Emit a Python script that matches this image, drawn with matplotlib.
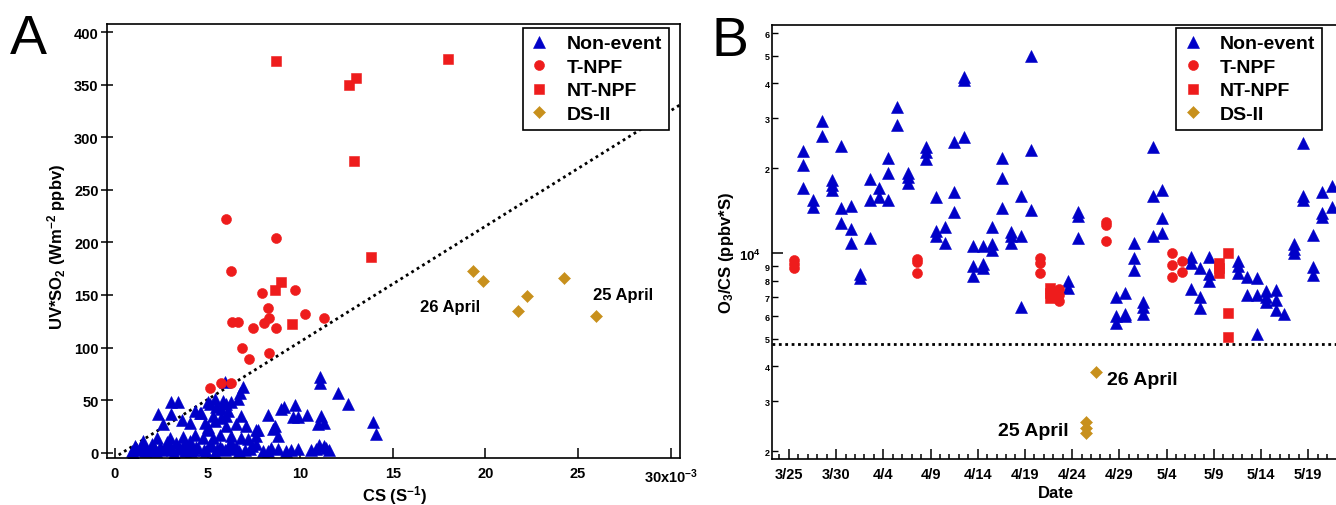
import matplotlib
matplotlib.use("Agg")
import matplotlib.pyplot as plt
import numpy as np

plt.rcParams['font.family'] = ['Liberation Sans', 'DejaVu Sans']
plt.rcParams['font.weight'] = 'bold'
plt.rcParams['mathtext.fontset'] = 'custom'
plt.rcParams['mathtext.rm'] = 'Liberation Sans:bold'
plt.rcParams['mathtext.it'] = 'Liberation Sans:bold'
plt.rcParams['mathtext.bf'] = 'Liberation Sans:bold'
plt.rcParams['mathtext.default'] = 'rm'

# ---------------- Panel A data (CS in 1e-3 s^-1, UV*SO2) ----------------
a_non_cs = [0.9, 1.1, 1.3, 1.5, 1.7, 1.9, 2.0, 2.2, 2.25, 2.33, 2.42, 2.6, 2.7, 2.8, 2.96,
            3.05, 3.05, 3.1, 3.32, 3.4, 3.45, 3.6, 3.68, 3.8, 3.9, 4.04, 4.04, 4.2, 4.31, 4.31,
            4.4, 4.58, 4.67, 4.76, 4.85, 4.94, 5.03, 5.03, 5.03, 5.12, 5.2, 5.3, 5.3, 5.39, 5.39,
            5.48, 5.5, 5.66, 5.66, 5.75, 5.75, 5.84, 5.93, 5.95, 6.02, 6.02, 6.02, 6.1, 6.2, 6.29,
            6.29, 6.29, 6.4, 6.56, 6.56, 6.64, 6.73, 6.83, 6.83, 6.91, 7.0, 7.1, 7.18, 7.27, 7.63,
            7.63, 7.63, 7.72, 7.99, 8.26, 8.26, 8.53, 8.62, 8.8, 8.8, 8.98, 9.1, 9.25, 9.6, 9.7,
            9.87, 9.87, 10.38, 10.6, 10.87, 10.95, 11.05, 11.07, 11.13, 11.3, 11.3, 11.58, 12.03,
            12.57, 13.92, 14.1,
            1.0, 1.4, 1.6, 2.1, 2.5, 2.9, 3.2, 3.5, 3.7, 4.1, 4.5, 4.8, 5.1, 5.4, 5.8, 6.1, 6.7,
            7.4, 8.4, 9.5, 11.0, 11.4]
a_non_val = [1, 6, 2, 11, 3, 2, 8, 1, 14, 37, 5, 27, 3, 10, 14,
             48, 37, 2, 9, 48, 4, 31, 15, 1, 6, 11, 28, 2, 40, 17,
             5, 38, 38, 14, 28, 1, 24, 48, 21, 46, 8, 35, 14, 51, 30,
             43, 3, 17, 5, 33, 41, 49, 67, 2, 46, 25, 35, 40, 8, 48,
             16, 9, 3, 27, 5, 51, 57, 35, 14, 62, 2, 25, 13, 3, 21,
             16, 8, 21, 1, 36, 1, 22, 25, 16, 3, 41, 43, 1, 34, 45,
             34, 3, 36, 2, 3, 27, 72, 66, 35, 28, 6, 2, 57,
             46, 29, 18,
             0, 4, 1, 5, 2, 7, 0, 3, 8, 1, 4, 2, 6, 0, 3, 5, 1,
             6, 4, 2, 7, 4]
a_t_cs = [6.02, 6.26, 8.71, 7.96, 9.74, 8.24, 8.31, 8.06, 8.71, 7.43, 6.3, 6.63, 10.28,
          11.26, 6.84, 7.24, 8.29, 5.14, 5.72, 6.26]
a_t_val = [222, 173, 204, 152, 155, 138, 128, 123, 119, 119, 124, 124, 132,
           128, 100, 89, 95, 61, 66, 66]
a_nt_cs = [8.71, 12.61, 13.03, 17.99, 12.9, 13.8, 8.94, 8.66, 9.57]
a_nt_val = [373, 350, 357, 375, 278, 186, 162, 155, 122]
a_ds_cs = [19.32, 19.88, 21.77, 22.24, 24.22, 25.98]
a_ds_val = [173, 163, 135, 149, 166, 130]
a_line_slope = 11.0
a_line_icpt = -4.5
a_xticks = [0, 5, 10, 15, 20, 25, 30]
a_xticklabels = ['0', '5', '10', '15', '20', '25', '30x10$^{-3}$']
a_yticks = [0, 50, 100, 150, 200, 250, 300, 350, 400]

# ---------------- Panel B data (days after 3/25, O3/CS) ----------------
b_non_day = [1.53, 1.53, 1.53, 2.59, 2.59, 3.5, 3.5, 4.57, 4.57, 4.57, 5.52, 5.52, 5.52,
             6.58, 6.58, 6.58, 7.57, 7.57, 8.59, 8.59, 8.59, 9.5, 9.5, 10.5, 10.5, 10.5,
             11.5, 11.5, 12.58, 12.58, 12.58, 14.52, 14.52, 14.52, 15.58, 15.58, 15.58,
             16.54, 16.54, 17.52, 17.52, 17.52, 18.58, 18.58, 18.58, 19.53, 19.53, 19.53,
             20.6, 20.6, 20.6, 21.55, 21.55, 21.55, 22.54, 22.54, 22.54, 23.53, 23.53, 23.53,
             24.55, 24.55, 24.55, 25.6, 25.6, 25.6, 29.6, 29.6, 30.6, 30.6, 30.6,
             34.6, 34.6, 34.6, 35.6, 35.6, 35.6, 36.56, 36.56, 36.56, 37.55, 37.55, 37.55,
             38.54, 38.54, 38.54, 39.56, 39.56, 39.56, 42.56, 42.56, 42.56, 43.55, 43.55, 43.55,
             44.54, 44.54, 44.54, 47.54, 47.54, 47.54, 48.56, 48.56, 49.55, 49.55, 49.55,
             50.54, 50.54, 50.54, 51.6, 51.6, 51.6, 52.45, 53.5, 53.5, 53.5, 54.49, 54.49, 54.49,
             55.49, 55.49, 55.49, 56.5, 56.5, 56.5, 57.5, 57.5]
b_non_val = [2.31e4, 2.05e4, 1.70e4, 1.55e4, 1.46e4, 2.94e4, 2.61e4, 1.82e4, 1.75e4, 1.68e4,
             2.39e4, 1.45e4, 1.28e4, 1.47e4, 1.22e4, 1.09e4, 8.45e3, 8.17e3, 1.84e4, 1.55e4,
             1.13e4, 1.71e4, 1.58e4, 2.18e4, 1.93e4, 1.54e4, 3.30e4, 2.84e4, 1.92e4, 1.86e4,
             1.78e4, 2.38e4, 2.29e4, 2.15e4, 1.58e4, 1.20e4, 1.15e4, 1.24e4, 1.09e4, 2.48e4,
             1.65e4, 1.40e4, 4.19e4, 4.10e4, 2.58e4, 1.06e4, 9.0e3, 8.34e3, 1.06e4, 9.17e3,
             8.85e3, 1.24e4, 1.08e4, 1.03e4, 2.18e4, 1.85e4, 1.45e4, 1.19e4, 1.15e4, 1.09e4,
             1.59e4, 1.15e4, 6.49e3, 5.0e4, 2.33e4, 1.43e4, 8.01e3, 7.52e3, 1.40e4, 1.36e4,
             1.13e4, 7.03e3, 6.0e3, 5.7e3, 7.26e3, 6.13e3, 6.0e3, 1.09e4, 9.6e3, 8.73e3,
             6.75e3, 6.49e3, 6.13e3, 2.37e4, 1.59e4, 1.15e4, 1.68e4, 1.33e4, 1.18e4,
             9.73e3, 9.22e3, 7.48e3, 8.9e3, 7.03e3, 6.4e3, 9.73e3, 8.45e3, 8.01e3,
             9.42e3, 9.0e3, 8.5e3, 8.28e3, 7.13e3, 8.17e3, 7.13e3, 5.21e3,
             7.36e3, 7.03e3, 6.75e3, 7.42e3, 6.84e3, 6.31e3, 6.1e3, 1.08e4, 1.04e4, 1.0e4,
             2.45e4, 1.59e4, 1.54e4, 1.16e4, 8.98e3, 8.37e3, 1.65e4, 1.39e4, 1.35e4,
             1.73e4, 1.46e4]
b_t_day = [0.57, 0.57, 0.57, 13.57, 13.57, 13.57, 26.6, 26.6, 26.6, 28.6, 28.6, 28.6,
           33.6, 33.6, 33.6, 40.55, 40.55, 40.55, 41.6, 41.6]
b_t_val = [9.47e3, 9.17e3, 8.85e3, 9.55e3, 9.35e3, 8.55e3, 9.6e3, 9.27e3, 8.55e3,
           7.48e3, 7.13e3, 6.81e3, 1.29e4, 1.26e4, 1.11e4, 1.0e4, 9.1e3, 8.28e3, 9.42e3, 8.61e3]
b_nt_day = [27.66, 27.66, 27.66, 45.56, 45.56, 45.56, 46.55, 46.55, 46.55]
b_nt_val = [7.52e3, 7.22e3, 6.94e3, 9.22e3, 8.85e3, 8.5e3, 1.0e4, 6.17e3, 5.05e3]
b_ds_day = [31.5, 31.5, 31.5, 32.5]
b_ds_val = [2.54e3, 2.41e3, 2.31e3, 3.82e3]
b_threshold = 4.8e3
b_xticks = [0, 5, 10, 15, 20, 25, 30, 35, 40, 45, 50, 55]
b_xticklabels = ['3/25', '3/30', '4/4', '4/9', '4/14', '4/19', '4/24', '4/29', '5/4',
                 '5/9', '5/14', '5/19']
b_minor_y = [2e3, 3e3, 4e3, 5e3, 6e3, 7e3, 8e3, 9e3, 2e4, 3e4, 4e4, 5e4, 6e4]
b_minor_labels = ['2', '3', '4', '5', '6', '7', '8', '9', '2', '3', '4', '5', '6']

labels = ['Non-event', 'T-NPF', 'NT-NPF', 'DS-II']
c_blue = '#0000c8'
c_red = '#ee1c1c'
c_gold = '#c8901c'

W, H = 1336, 506
fig = plt.figure(figsize=(W / 100, H / 100), dpi=100)

def fx(p):
    return p / W

def fy(p):
    return 1 - p / H

axA = fig.add_axes([fx(107), fy(459), (680 - 107) / W, (459 - 25) / H])
axB = fig.add_axes([fx(771.6), fy(460), (1345 - 771.6) / W, (460 - 26) / H])

mk = dict(linestyle='none')
sty = [dict(marker='^', ms=8.3, color=c_blue, mec=c_blue, mew=0.4),
       dict(marker='o', ms=7.2, color=c_red, mec=c_red, mew=0.4),
       dict(marker='s', ms=7.2, color=c_red, mec=c_red, mew=0.4),
       dict(marker='D', ms=6.4, color=c_gold, mec=c_gold, mew=0.4)]

leg_kw = dict(loc='upper left', fontsize=14, frameon=True, fancybox=False, edgecolor='black',
              framealpha=1, borderpad=0.35, labelspacing=0.3, handlelength=1.0,
              handletextpad=0.9, borderaxespad=0)

# ---------------- Panel A ----------------
ax = axA
xl = np.array([0.2, 30.5])
ax.plot(xl, a_line_slope * xl + a_line_icpt, color='black', lw=2, linestyle=(0, (1, 1.3)))
hA = []
for (xs, ys), s, lab in zip([(a_non_cs, a_non_val), (a_t_cs, a_t_val), (a_nt_cs, a_nt_val),
                            (a_ds_cs, a_ds_val)], sty, labels):
    h, = ax.plot(xs, ys, label=lab, **mk, **s)
    hA.append(h)
ax.set_xlim(-0.43, 30.5)
ax.set_ylim(-5.2, 408)
ax.set_xticks(a_xticks)
ax.set_xticklabels(a_xticklabels)
ax.set_yticks(a_yticks)
ax.tick_params(axis='x', direction='in', length=7, width=1.1, labelsize=10.5, pad=6)
ax.tick_params(axis='y', direction='inout', length=8, width=1.1, labelsize=10.5, pad=2)
for lbl in ax.get_xticklabels() + ax.get_yticklabels():
    lbl.set_fontweight('bold')
for sp in ax.spines.values():
    sp.set_linewidth(1.2)
ax.text(18.1, 139.5, '26 April', fontsize=12, fontweight='bold', ha='center', va='center')
ax.text(27.4, 150.4, '25 April', fontsize=12, fontweight='bold', ha='center', va='center')
legA = fig.legend(handles=hA, bbox_to_anchor=(fx(522.6), fy(29)), **leg_kw)
legA.get_frame().set_linewidth(1.2)

fig.text(fx(57), fy(247), 'UV*SO$_2$ (Wm$^{-2}$ ppbv)', rotation=90, ha='center', va='center',
         fontsize=12, fontweight='bold')
fig.text(fx(394), fy(496), 'CS (S$^{-1}$)', ha='center', va='center', fontsize=12,
         fontweight='bold')
fig.text(fx(10), fy(14), 'A', fontsize=40, fontweight='normal', ha='left', va='top')

# ---------------- Panel B ----------------
ax = axB
ax.set_yscale('log')
ax.axhline(b_threshold, color='black', lw=2, linestyle=(0, (1, 1.3)))
hB = []
for (xs, ys), s, lab in zip([(b_non_day, b_non_val), (b_t_day, b_t_val), (b_nt_day, b_nt_val),
                            (b_ds_day, b_ds_val)], sty, labels):
    h, = ax.plot(xs, ys, label=lab, **mk, **s)
    hB.append(h)
ax.set_xlim(-1.83, 58.9)
ax.set_ylim(1877, 6.42e4)
ax.set_xticks(b_xticks)
ax.set_xticklabels(b_xticklabels)
ax.set_xticks(np.arange(-1, 59), minor=True)
ax.set_yticks([1e4])
ax.set_yticklabels(['10$^4$'])
ax.set_yticks(b_minor_y, minor=True)
ax.set_yticklabels(b_minor_labels, minor=True)
ax.tick_params(axis='x', which='major', direction='in', length=7, width=1.1, labelsize=10.5, pad=6)
ax.tick_params(axis='x', which='minor', direction='in', length=3.5, width=1.1)
ax.tick_params(axis='y', which='major', direction='in', length=8, width=1.1, labelsize=9.5, pad=8)
ax.tick_params(axis='y', which='minor', direction='in', length=4.5, width=1.0, labelsize=6.5, pad=1.5)
for lbl in (ax.get_xticklabels() + ax.get_yticklabels() + ax.get_yticklabels(minor=True)):
    lbl.set_fontweight('bold')
for sp in ax.spines.values():
    sp.set_linewidth(1.2)
ax.text(33.74, 3.59e3, '26 April', fontsize=14, fontweight='bold', ha='left', va='center')
ax.text(29.67, 2.36e3, '25 April', fontsize=14, fontweight='bold', ha='right', va='center')
legB = fig.legend(handles=hB, bbox_to_anchor=(fx(1176), fy(29)), **leg_kw)
legB.get_frame().set_linewidth(1.2)

fig.text(fx(727), fy(253), 'O$_3$/CS (ppbv*S)', rotation=90, ha='center', va='center',
         fontsize=12, fontweight='bold')
fig.text(fx(1056), fy(494), 'Date', ha='center', va='center', fontsize=12, fontweight='bold')
fig.text(fx(712), fy(16), 'B', fontsize=40, fontweight='normal', ha='left', va='top')

fig.savefig('out.png', dpi=100)
